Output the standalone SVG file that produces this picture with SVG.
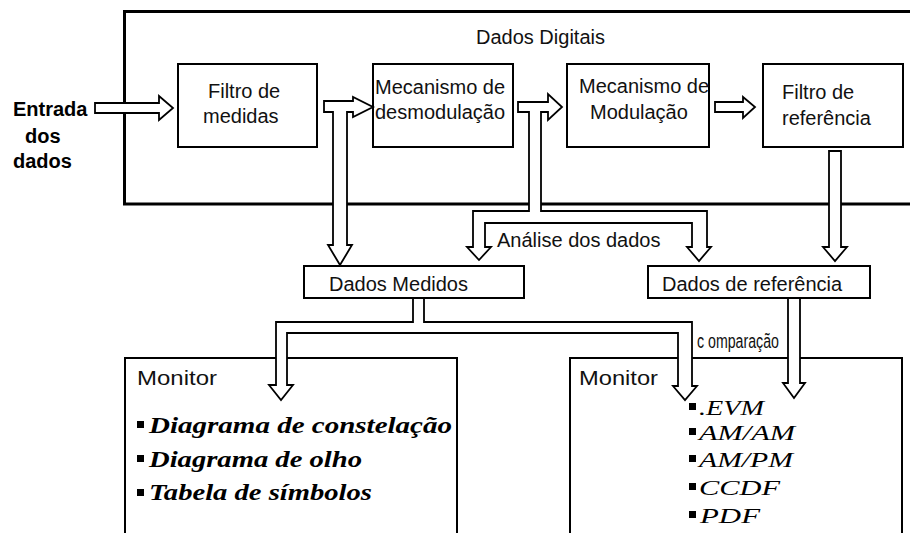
<svg xmlns="http://www.w3.org/2000/svg" width="910" height="533" viewBox="0 0 910 533">
<style>
.box{fill:#fff;stroke:#000;stroke-width:2}
.outer{fill:#fff;stroke:#000;stroke-width:3}
.arr{fill:#fff;stroke:#000;stroke-width:1.8;stroke-linejoin:miter}
.t{font-family:"Liberation Sans",Arial,sans-serif;font-size:20px;fill:#111}
.tb{font-family:"Liberation Sans",Arial,sans-serif;font-size:20px;font-weight:bold;fill:#000}
.li{font-family:"Liberation Serif","Times New Roman",serif;font-size:23px;font-weight:bold;font-style:italic;fill:#000}
.ri{font-family:"Liberation Serif","Times New Roman",serif;font-size:21px;font-style:italic;fill:#000}
.bul{fill:#000}
</style>
<rect width="910" height="533" fill="#fff"/>
<g id="dados-digitais">
<rect class="outer" x="124.5" y="11.5" width="800" height="192.5"/>
<text class="t" x="476" y="44">Dados Digitais</text>
</g>
<g id="entrada">
<text class="tb" x="13" y="116">Entrada</text>
<text class="tb" x="25" y="143">dos</text>
<text class="tb" x="13" y="168">dados</text>
</g>
<g id="filtro-medidas">
<rect class="box" x="178" y="64" width="139" height="83"/>
<text class="t" x="208" y="98">Filtro de</text>
<text class="t" x="203" y="123">medidas</text>
</g>
<g id="desmodulacao">
<rect class="box" x="373" y="64" width="140" height="83"/>
<text class="t" x="375" y="94">Mecanismo de</text>
<text class="t" x="375" y="119">desmodulação</text>
</g>
<g id="modulacao">
<rect class="box" x="567" y="64" width="142" height="83"/>
<text class="t" x="579" y="93">Mecanismo de</text>
<text class="t" x="590" y="119">Modulação</text>
</g>
<g id="filtro-referencia">
<rect class="box" x="763" y="64" width="140" height="83"/>
<text class="t" x="782" y="99">Filtro de</text>
<text class="t" x="782" y="125">referência</text>
</g>
<g id="dados-medidos">
<rect class="box" x="304" y="266" width="220" height="32"/>
<text class="t" x="329" y="291">Dados Medidos</text>
</g>
<g id="dados-referencia">
<rect class="box" x="648" y="266" width="222" height="32"/>
<text class="t" x="662" y="291">Dados de referência</text>
</g>
<g id="monitor-1">
<rect class="box" x="125" y="358" width="332" height="190"/>
<text class="t" x="137" y="385" font-size="22" textLength="80" lengthAdjust="spacingAndGlyphs">Monitor</text>
<rect class="bul" x="137" y="421" width="7" height="7"/>
<rect class="bul" x="137" y="455" width="7" height="7"/>
<rect class="bul" x="137" y="489" width="7" height="7"/>
<text class="li" x="149" y="433" textLength="303" lengthAdjust="spacingAndGlyphs">Diagrama de constelação</text>
<text class="li" x="149" y="467" textLength="213" lengthAdjust="spacingAndGlyphs">Diagrama de olho</text>
<text class="li" x="149" y="500" textLength="223" lengthAdjust="spacingAndGlyphs">Tabela de símbolos</text>
</g>
<g id="monitor-2">
<rect class="box" x="570" y="358" width="332" height="190"/>
<text class="t" x="579" y="385" font-size="22" textLength="79" lengthAdjust="spacingAndGlyphs">Monitor</text>
<rect class="bul" x="689" y="403" width="7" height="7"/>
<rect class="bul" x="689" y="428" width="7" height="7"/>
<rect class="bul" x="689" y="455" width="7" height="7"/>
<rect class="bul" x="689" y="483" width="7" height="7"/>
<rect class="bul" x="689" y="511" width="7" height="7"/>
<text class="ri" x="699" y="415" textLength="65" lengthAdjust="spacingAndGlyphs">.EVM</text>
<text class="ri" x="699" y="440" textLength="96" lengthAdjust="spacingAndGlyphs">AM/AM</text>
<text class="ri" x="699" y="467" textLength="94" lengthAdjust="spacingAndGlyphs">AM/PM</text>
<text class="ri" x="699" y="495" textLength="81" lengthAdjust="spacingAndGlyphs">CCDF</text>
<text class="ri" x="700" y="523" textLength="60" lengthAdjust="spacingAndGlyphs">PDF</text>
</g>
<g id="connectors">
<polygon class="arr" points="95,103 159,103 159,96 173,108 159,120 159,113 95,113"/>
<polygon class="arr" points="324,101 353,101 353,97 373,107 353,117 353,112 347,112 347,245 352,245 340,265 328,245 333,245 333,112 324,112"/>
<polygon class="arr" points="518,102 548,102 548,94 562,107 548,120 548,112 541,112 541,211 707,211 707,247 711,247 699,261 687,247 692,247 692,223 485,223 485,247 491,247 479,260 467,247 473,247 473,211 529,211 529,112 518,112"/>
<polygon class="arr" points="715,102 743,102 743,97 755,107 743,118 743,112 715,112"/>
<polygon class="arr" points="829,151 841,151 841,247 847,247 835,261 823,247 829,247"/>
<polygon class="arr" points="413,298 424,298 424,322 692,322 692,386 697,386 685,400 673,386 678,386 678,333 287,333 287,385 293,385 281,400 269,385 276,385 276,322 413,322"/>
<polygon class="arr" points="788,298 800,298 800,383 805,383 794,398 783,383 788,383"/>
<text class="t" x="497" y="247">Análise dos dados</text>
<text class="t" x="697" y="348" font-size="13" textLength="82" lengthAdjust="spacingAndGlyphs">c omparação</text>
</g>
</svg>
